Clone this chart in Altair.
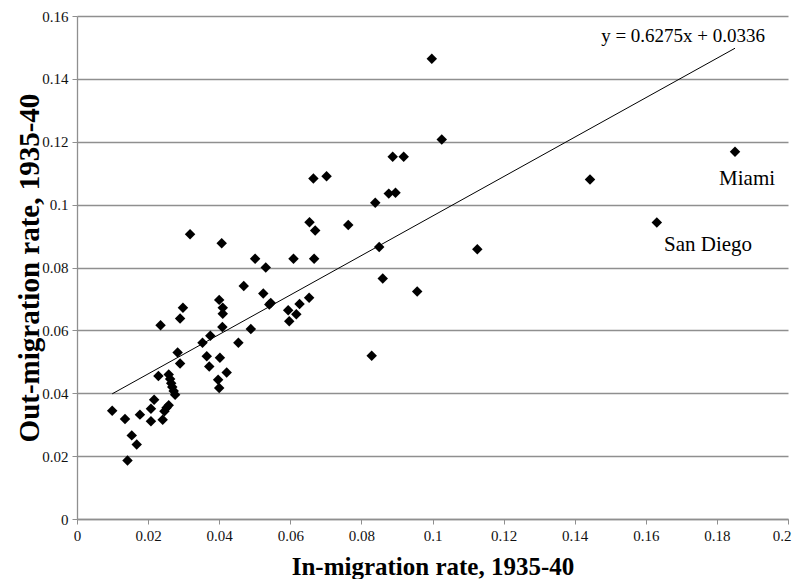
import altair as alt
import pandas as pd

# In-migration (x) and out-migration (y) rates, 1935-40
in_rate = [0.0099, 0.0135, 0.0142, 0.0154, 0.0168, 0.0177, 0.0208, 0.0208, 0.0217, 0.0229,
           0.0235, 0.0241, 0.0246, 0.0252, 0.0258, 0.0258, 0.0262, 0.0265, 0.0268, 0.0272,
           0.0276, 0.0283, 0.0290, 0.0290, 0.0298, 0.0318, 0.0353, 0.0365, 0.0372, 0.0375,
           0.0397, 0.0400, 0.0400, 0.0402, 0.0407, 0.0409, 0.0410, 0.0410, 0.0421, 0.0454,
           0.0469, 0.0489, 0.0501, 0.0524, 0.0531, 0.0541, 0.0545, 0.0594, 0.0597, 0.0609,
           0.0617, 0.0626, 0.0653, 0.0654, 0.0665, 0.0667, 0.0670, 0.0702, 0.0763, 0.0829,
           0.0839, 0.0850, 0.0860, 0.0877, 0.0888, 0.0896, 0.0919, 0.0957, 0.0998, 0.1026,
           0.1126, 0.1443, 0.1631, 0.1851]
out_rate = [0.0344, 0.0318, 0.0186, 0.0266, 0.0237, 0.0332, 0.0311, 0.0351, 0.0379, 0.0455,
            0.0616, 0.0316, 0.0343, 0.0354, 0.0362, 0.0460, 0.0445, 0.0432, 0.0420, 0.0407,
            0.0395, 0.0530, 0.0495, 0.0638, 0.0672, 0.0906, 0.0561, 0.0518, 0.0485, 0.0583,
            0.0443, 0.0417, 0.0697, 0.0513, 0.0877, 0.0611, 0.0653, 0.0672, 0.0466, 0.0561,
            0.0741, 0.0604, 0.0828, 0.0717, 0.0800, 0.0682, 0.0687, 0.0664, 0.0629, 0.0828,
            0.0651, 0.0684, 0.0704, 0.0944, 0.1083, 0.0828, 0.0918, 0.1090, 0.0935, 0.0519,
            0.1006, 0.0865, 0.0765, 0.1035, 0.1152, 0.1038, 0.1152, 0.0724, 0.1464, 0.1207,
            0.0858, 0.1080, 0.0943, 0.1168]

# Linear trend shown on the chart
slope = 0.6275
intercept = 0.0336

x_ticks = [0, 0.02, 0.04, 0.06, 0.08, 0.1, 0.12, 0.14, 0.16, 0.18, 0.2]
y_ticks = [0, 0.02, 0.04, 0.06, 0.08, 0.1, 0.12, 0.14, 0.16]

label_text = ["y = 0.6275x + 0.0336", "Miami", "San Diego"]
label_x = [0.1705, 0.1885, 0.1775]
label_y = [0.1535, 0.1082, 0.0872]
label_size = [19, 21, 21]

FONT = "Liberation Serif"
GRAY = "#8f8f8f"

pts = pd.DataFrame({"inr": in_rate, "outr": out_rate})
line_x = [min(in_rate), max(in_rate)]
trend = pd.DataFrame({"inr": line_x, "outr": [slope * v + intercept for v in line_x]})
labels = pd.DataFrame({"t": label_text, "inr": label_x, "outr": label_y, "s": label_size})

xscale = alt.Scale(domain=[0, 0.2], nice=False, zero=True)
yscale = alt.Scale(domain=[0, 0.16], nice=False, zero=True)

xaxis = alt.Axis(
    title="In-migration rate, 1935-40", values=x_ticks, format="~g", grid=False,
    titleFont=FONT, titleFontSize=25, titleFontWeight="bold", titleColor="black",
    titlePadding=11, labelFont=FONT, labelFontSize=15, labelColor="#111",
    labelPadding=4, tickColor=GRAY, tickSize=5, domainColor=GRAY, domainWidth=1.3,
    labelAlign={"condition": {"test": "datum.value >= 0.19", "value": "right"}, "value": "center"},
    labelOffset={"condition": {"test": "datum.value >= 0.19", "value": 3}, "value": 0},
)
yaxis = alt.Axis(
    title="Out-migration rate, 1935-40", values=y_ticks, format="~g", grid=True,
    gridColor=GRAY, gridWidth=1.3,
    titleFont=FONT, titleFontSize=29, titleFontWeight="bold", titleColor="black",
    titlePadding=-3, labelFont=FONT, labelFontSize=15, labelColor="#111",
    labelPadding=4, tickColor=GRAY, tickSize=5, domainColor=GRAY, domainWidth=1.3,
)

points = alt.Chart(pts).mark_point(
    shape="diamond", filled=True, size=110, color="black", opacity=1
).encode(
    x=alt.X("inr:Q", scale=xscale, axis=xaxis),
    y=alt.Y("outr:Q", scale=yscale, axis=yaxis),
)

line = alt.Chart(trend).mark_line(color="black", strokeWidth=1).encode(
    x=alt.X("inr:Q", scale=xscale),
    y=alt.Y("outr:Q", scale=yscale),
)

text = alt.Chart(labels).mark_text(
    font=FONT, color="black", align="center", baseline="middle"
).encode(
    x=alt.X("inr:Q", scale=xscale),
    y=alt.Y("outr:Q", scale=yscale),
    text="t:N",
    size=alt.Size("s:Q", scale=None, legend=None),
)

chart = alt.layer(line, points, text).properties(
    width=711, height=503,
    padding={"left": 69, "top": 8, "right": 4, "bottom": 60},
    autosize=alt.AutoSizeParams(type="none"),
    background="white",
).configure_view(stroke=None)

chart.save("out.html", embed_options={"renderer": "svg", "actions": False})
